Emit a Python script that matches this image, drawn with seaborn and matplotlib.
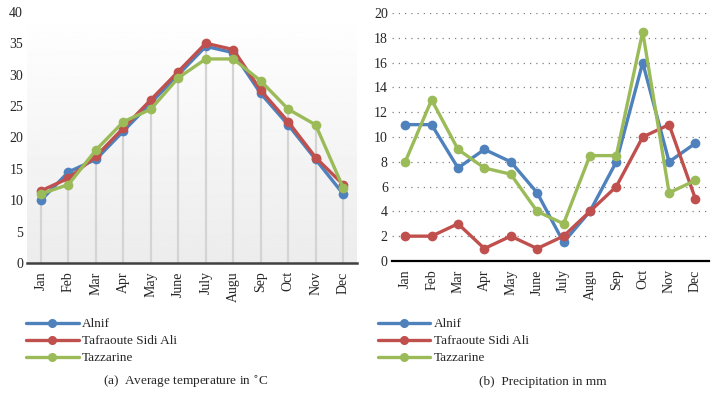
import numpy as np
import pandas as pd
import seaborn as sns
import matplotlib.pyplot as plt

months = ['Jan', 'Feb', 'Mar', 'Apr', 'May', 'June', 'July', 'Augu', 'Sep', 'Oct', 'Nov', 'Dec']
stations = ['Alnif', 'Tafraoute Sidi Ali', 'Tazzarine']

temp_alnif = [10, 14.5, 16.5, 21, 25.5, 30, 34.5, 33.5, 27, 22, 16.5, 11]
temp_tafraoute = [11.5, 13.5, 17, 21.5, 26, 30.5, 35, 34, 27.5, 22.5, 16.8, 12.5]
temp_tazzarine = [11, 12.5, 18, 22.5, 24.5, 29.5, 32.5, 32.5, 29, 24.5, 22, 12]

rain_alnif = [11, 11, 7.5, 9, 8, 5.5, 1.5, 4, 8, 16, 8, 9.5]
rain_tafraoute = [2, 2, 3, 1, 2, 1, 2, 4, 6, 10, 11, 5]
rain_tazzarine = [8, 13, 9, 7.5, 7, 4, 3, 8.5, 8.5, 18.5, 5.5, 6.5]

colors = ['#4f81bd', '#c0504d', '#9bbb59']


def to_long(series_list):
    frames = []
    for name, vals in zip(stations, series_list):
        frames.append(pd.DataFrame({'Month': months, 'Value': vals, 'Station': name}))
    return pd.concat(frames, ignore_index=True)


temp_df = to_long([temp_alnif, temp_tafraoute, temp_tazzarine])
rain_df = to_long([rain_alnif, rain_tafraoute, rain_tazzarine])

sns.set_style('white')
plt.rcParams['font.family'] = ['Liberation Serif', 'DejaVu Serif']
plt.rcParams['font.size'] = 10

fig = plt.figure(figsize=(7.18, 4.09), dpi=100)
ax1 = fig.add_axes([0.038, 0.357, 0.459, 0.614])
ax2 = fig.add_axes([0.546, 0.362, 0.441, 0.606])


def draw(ax, df):
    sns.lineplot(data=df, x='Month', y='Value', hue='Station', palette=colors,
                 marker='o', markersize=7, markeredgewidth=0, linewidth=2.4,
                 sort=False, ax=ax, zorder=3)
    ax.set_xlim(-0.5, len(months) - 0.5)
    ax.set_xlabel('')
    ax.set_ylabel('')
    ax.tick_params(axis='x', rotation=90, length=0, pad=6, labelsize=10)
    ax.tick_params(axis='y', length=0, pad=3, labelsize=10)
    for s in ['top', 'right', 'left']:
        ax.spines[s].set_visible(False)
    ax.get_legend().remove()


# (a) temperature
draw(ax1, temp_df)
ax1.set_ylim(0, 40)
ax1.set_yticks(range(0, 41, 5))
grad = np.linspace(1.0, 0.925, 256).reshape(-1, 1)
ax1.imshow(grad, cmap='gray', vmin=0, vmax=1, aspect='auto',
           extent=[0, 1, 0, 1], transform=ax1.transAxes, zorder=0)
tops = temp_df.groupby('Month', sort=False)['Value'].max()
ax1.vlines(range(len(months)), 0, tops.values, color='#d4d4d4', linewidth=1.6, zorder=1)
ax1.spines['bottom'].set_color('#404040')
ax1.spines['bottom'].set_linewidth(1.8)

# (b) precipitation
draw(ax2, rain_df)
ax2.set_ylim(0, 20)
ax2.set_yticks(range(0, 21, 2))
ax2.grid(axis='y', color='#808080', linestyle=(0, (1, 4)), linewidth=0.9)
ax2.set_axisbelow(True)
ax2.spines['bottom'].set_color('black')
ax2.spines['bottom'].set_linewidth(1.6)

for x0 in [0.036, 0.526]:
    hs = [plt.Line2D([], [], color=c, marker='o', markersize=5.5, linewidth=2.4) for c in colors]
    fig.legend(hs, stations, loc='upper left', bbox_to_anchor=(x0, 0.222),
               frameon=False, handlelength=4.0, handletextpad=0.25,
               labelspacing=0.35, borderpad=0, borderaxespad=0, fontsize=9.5)

fig.text(0.143, 0.066, '(a)  Average temperature in $^{\\circ}$C', fontsize=9.5, va='center')
fig.text(0.667, 0.066, '(b)  Precipitation in mm', fontsize=9.5, va='center')

fig.savefig('out.png', dpi=100)
